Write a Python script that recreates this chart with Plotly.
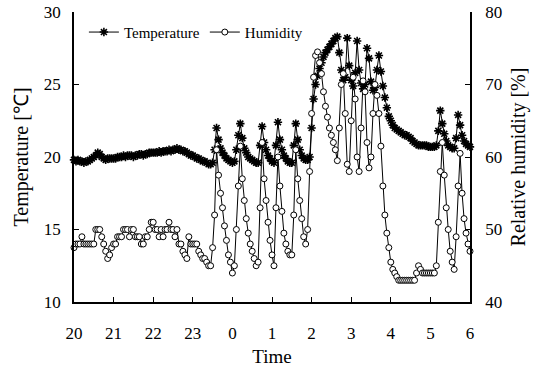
import numpy as np
import plotly.graph_objects as go

# Sampling: one reading every 3 minutes from 20:00 to 06:00 (x in hours after 20:00)
tick_vals = [0, 1, 2, 3, 4, 5, 6, 7, 8, 9, 10]
tick_text = ["20", "21", "22", "23", "0", "1", "2", "3", "4", "5", "6"]

temperature = (
    [19.8, 19.7, 19.8, 19.7, 19.7, 19.6, 19.7, 19.7, 19.8, 19.9, 20.0, 20.1, 20.3, 20.2, 20.0, 19.9, 19.8, 19.9, 19.9, 19.9]
    + [19.9, 19.9, 20.0, 20.0, 20.0, 20.1, 20.0, 20.1, 20.1, 20.1, 20.0, 20.1, 20.1, 20.2, 20.2, 20.1, 20.2, 20.2, 20.3, 20.3]
    + [20.3, 20.3, 20.3, 20.4, 20.3, 20.4, 20.4, 20.4, 20.5, 20.4, 20.5, 20.5, 20.6, 20.5, 20.5, 20.4, 20.4, 20.3, 20.2, 20.1]
    + [20.1, 20.0, 19.9, 19.9, 19.8, 19.7, 19.7, 19.6, 19.5, 19.5, 19.6, 20.5, 22.0, 21.2, 20.6, 20.3, 20.1, 19.9, 19.8, 19.7]
    + [19.6, 19.7, 20.5, 21.5, 22.3, 21.3, 20.6, 20.3, 20.0, 19.9, 19.8, 19.7, 19.6, 19.6, 20.8, 22.1, 21.0, 20.5, 20.1, 19.9]
    + [19.7, 19.6, 20.8, 22.4, 21.2, 20.5, 20.1, 19.9, 19.7, 19.6, 19.6, 20.8, 22.3, 21.2, 20.5, 20.1, 19.9, 19.8, 19.8, 20.0]
    + [22.0, 24.0, 25.0, 25.6, 26.1, 26.5, 26.9, 27.2, 27.4, 27.6, 27.8, 28.0, 28.2, 28.3, 27.2, 26.0, 25.3, 25.5, 28.2, 26.3]
    + [25.3, 24.9, 25.8, 28.0, 26.0, 25.1, 24.7, 25.0, 27.5, 26.8, 25.2, 24.6, 24.8, 26.0, 27.0, 25.9, 24.9, 24.1, 23.4, 22.8]
    + [22.5, 22.2, 22.0, 21.9, 21.8, 21.7, 21.6, 21.5, 21.5, 21.4, 21.3, 21.1, 21.0, 20.9, 20.8, 20.8, 20.8, 20.8, 20.8, 20.7]
    + [20.7, 20.7, 20.7, 20.8, 21.8, 23.2, 22.3, 21.6, 21.1, 20.8, 20.7, 20.6, 20.6, 21.3, 22.9, 22.2, 21.5, 21.1, 20.9, 20.8, 20.7]
)

humidity = (
    [47.5, 48, 48, 48, 49, 48, 48, 48, 48, 48, 48, 50, 50, 50, 49, 48, 47, 46, 46.5, 47.5]
    + [48, 48, 49, 49, 49, 50, 50, 50, 49, 50, 50, 49, 49, 49, 48, 48, 49, 49, 50, 51]
    + [51, 50, 50, 49, 50, 49, 50, 50, 51, 50, 50, 49, 50, 48, 48, 47, 46.5, 46, 49, 48]
    + [48, 48, 48, 47, 46.5, 46, 46, 45.5, 45, 45, 47.5, 52, 61, 57.5, 55, 53, 50.5, 48.5, 46.5, 45.5]
    + [44, 45, 50, 56, 61.5, 57, 54, 51.5, 49.5, 48, 47, 46, 45, 45.5, 53, 62, 57, 54, 51, 48.5]
    + [46.5, 45, 53, 60, 56, 52.5, 49.5, 48, 47, 46.5, 46.5, 52, 61, 57, 54, 51.5, 49, 48, 50, 58]
    + [66, 71, 74, 74.5, 73, 71.5, 69, 67, 65.5, 64, 63, 62, 61, 59.5, 64, 70, 71.5, 66, 59, 58]
    + [65, 71, 68, 60, 58, 64, 70.5, 69, 62, 58.5, 60, 66, 70, 68.5, 66, 61.5, 56, 52, 49.5, 47.5]
    + [45.5, 44.5, 44, 43.5, 43, 43, 43, 43, 43, 43, 43, 43, 43, 44, 45, 44.5, 44, 44, 44, 44]
    + [44, 44, 44, 45, 51, 58, 62, 57.5, 53, 50, 47, 45.5, 44.5, 49, 56, 60.5, 55, 51.5, 49.5, 48, 47]
)

step_hours = 0.05
time = [i * step_hours for i in range(len(temperature))]
time_h = [i * step_hours for i in range(len(humidity))]

FONT = "Liberation Serif, Times New Roman, serif"

fig = go.Figure()
fig.add_trace(go.Scatter(
    x=time, y=temperature, name="Temperature", mode="lines+markers",
    line=dict(color="black", width=1),
    marker=dict(symbol="asterisk", size=7, color="black", line=dict(color="black", width=1.6)),
    cliponaxis=False,
))
fig.add_trace(go.Scatter(
    x=time_h, y=humidity, name="Humidity", mode="lines+markers", yaxis="y2",
    line=dict(color="black", width=1),
    marker=dict(symbol="circle", size=6, color="white", line=dict(color="black", width=1)),
    cliponaxis=False,
))

axis_common = dict(
    showline=True, linecolor="black", linewidth=1.5, showgrid=False, zeroline=False,
    ticks="inside", ticklen=5, tickwidth=1.2, tickcolor="black", automargin=False,
    tickfont=dict(family=FONT, size=17, color="black"),
)

fig.update_layout(
    width=542, height=372,
    margin=dict(l=74, r=72, t=12, b=70, autoexpand=False),
    paper_bgcolor="white", plot_bgcolor="white",
    font=dict(family=FONT, color="black"),
    showlegend=True,
    legend=dict(
        orientation="h", x=0.025, y=0.93, xanchor="left", yanchor="middle",
        bgcolor="rgba(0,0,0,0)", font=dict(family=FONT, size=15, color="black"),
    ),
    xaxis=dict(
        range=[0, 10], tickvals=tick_vals, ticktext=tick_text,
        title=dict(text="Time", font=dict(family=FONT, size=19, color="black"), standoff=8),
        ticklabelstandoff=15,
        **axis_common,
    ),
    yaxis=dict(
        range=[10, 30], tickvals=[10, 15, 20, 25, 30],
        title=dict(text="Temperature [℃]", font=dict(family=FONT, size=20, color="black"), standoff=10),
        ticklabelstandoff=8,
        **axis_common,
    ),
    yaxis2=dict(
        range=[40, 80], tickvals=[40, 50, 60, 70, 80], overlaying="y", side="right",
        title=dict(text="Relative humidity [%]", font=dict(family=FONT, size=20, color="black"), standoff=10),
        ticklabelstandoff=10,
        **axis_common,
    ),
)

fig.write_html("out.html")
